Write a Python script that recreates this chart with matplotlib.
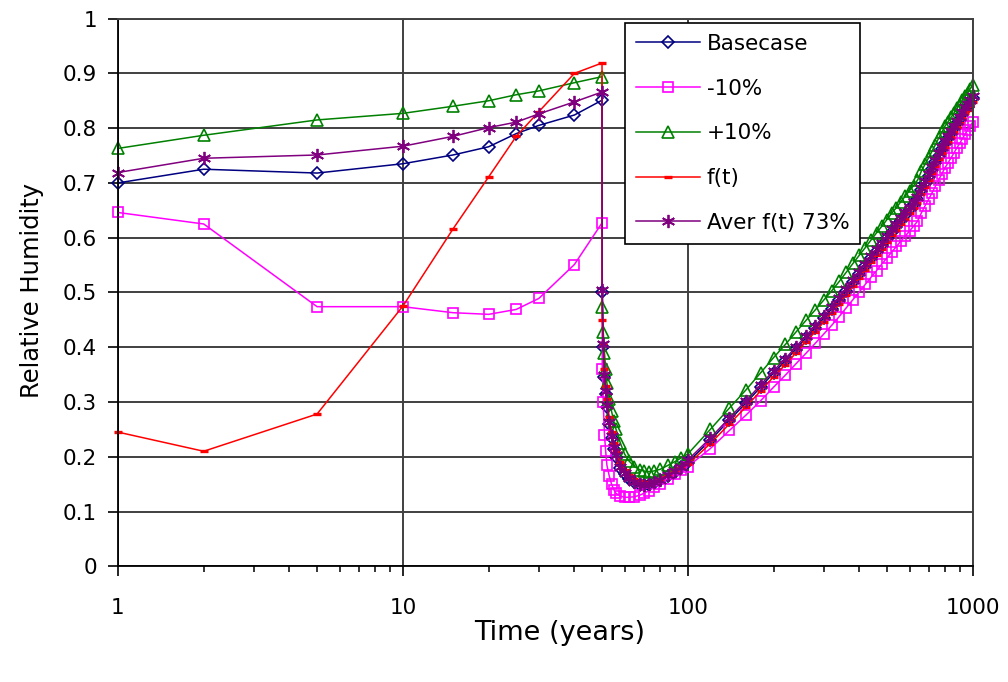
import matplotlib
matplotlib.use("Agg")
import matplotlib.pyplot as plt
from matplotlib.ticker import FixedLocator, NullFormatter

# ---------------- data ----------------
t_early = [1, 2, 5, 10, 15, 20, 25, 30, 40, 50]
t_drop = [50.1, 50.5, 51, 51.5, 52, 53, 54, 55, 56, 58, 60, 62, 65, 68, 70,
          73, 76, 80, 85, 90, 95]
t_late = [100, 120, 140, 160, 180, 200, 220, 240, 260, 280, 300, 320, 340,
          360, 380, 400, 420, 440, 460, 480, 500, 520, 540, 560, 580, 600,
          620, 640, 660, 680, 700, 720, 740, 760, 780, 800, 820, 840, 860,
          880, 900, 920, 940, 960, 980, 1000]

base_early = [0.700, 0.725, 0.718, 0.735, 0.751, 0.766, 0.790, 0.805, 0.824, 0.851]
base_drop = [0.500, 0.400, 0.345, 0.315, 0.290, 0.260, 0.235, 0.215, 0.200,
             0.180, 0.168, 0.160, 0.153, 0.149, 0.148, 0.149, 0.152, 0.157,
             0.165, 0.173, 0.181]
base_late = [0.190, 0.230, 0.267, 0.298, 0.327, 0.353, 0.375, 0.397, 0.417,
             0.435, 0.453, 0.470, 0.486, 0.503, 0.519, 0.534, 0.548, 0.562,
             0.575, 0.587, 0.599, 0.611, 0.621, 0.632, 0.642, 0.652, 0.661,
             0.671, 0.687, 0.700, 0.712, 0.725, 0.738, 0.750, 0.762, 0.773,
             0.782, 0.791, 0.800, 0.809, 0.817, 0.826, 0.834, 0.841, 0.848,
             0.855]

minus_early = [0.646, 0.625, 0.474, 0.474, 0.463, 0.460, 0.469, 0.489, 0.551, 0.627]
minus_drop = [0.360, 0.300, 0.240, 0.210, 0.185, 0.165, 0.150, 0.140, 0.133,
              0.128, 0.126, 0.126, 0.127, 0.130, 0.133, 0.138, 0.144, 0.151,
              0.160, 0.168, 0.175]
minus_late = [0.182, 0.215, 0.248, 0.276, 0.302, 0.327, 0.349, 0.370, 0.389,
              0.407, 0.424, 0.440, 0.456, 0.472, 0.487, 0.501, 0.515, 0.528,
              0.540, 0.552, 0.563, 0.574, 0.584, 0.594, 0.603, 0.612, 0.621,
              0.630, 0.645, 0.658, 0.670, 0.682, 0.694, 0.706, 0.717, 0.728,
              0.737, 0.746, 0.755, 0.764, 0.772, 0.781, 0.789, 0.797, 0.804,
              0.811]

plus_early = [0.763, 0.787, 0.815, 0.827, 0.840, 0.850, 0.861, 0.868, 0.883, 0.894]
plus_drop = [0.474, 0.428, 0.390, 0.360, 0.335, 0.305, 0.283, 0.265, 0.250,
             0.225, 0.205, 0.193, 0.182, 0.176, 0.174, 0.173, 0.174, 0.177,
             0.184, 0.191, 0.198]
plus_late = [0.205, 0.250, 0.289, 0.322, 0.353, 0.381, 0.405, 0.428, 0.449,
             0.468, 0.486, 0.503, 0.520, 0.537, 0.553, 0.568, 0.582, 0.596,
             0.609, 0.621, 0.633, 0.645, 0.655, 0.666, 0.676, 0.686, 0.695,
             0.705, 0.721, 0.734, 0.746, 0.758, 0.770, 0.782, 0.793, 0.804,
             0.812, 0.820, 0.828, 0.836, 0.843, 0.851, 0.858, 0.865, 0.872,
             0.879]

ft_early = [0.245, 0.210, 0.278, 0.475, 0.616, 0.711, 0.785, 0.830, 0.900, 0.919]
ft_drop = [0.450, 0.408, 0.360, 0.330, 0.305, 0.272, 0.245, 0.225, 0.210,
           0.190, 0.176, 0.167, 0.159, 0.155, 0.154, 0.154, 0.156, 0.160,
           0.167, 0.175, 0.182]
ft_late = [0.186, 0.224, 0.260, 0.291, 0.320, 0.346, 0.368, 0.390, 0.410,
           0.428, 0.446, 0.463, 0.479, 0.496, 0.512, 0.527, 0.541, 0.555,
           0.568, 0.580, 0.592, 0.604, 0.614, 0.625, 0.635, 0.645, 0.654,
           0.664, 0.680, 0.693, 0.705, 0.718, 0.731, 0.743, 0.755, 0.766,
           0.775, 0.784, 0.793, 0.802, 0.810, 0.819, 0.827, 0.834, 0.841,
           0.848]

aver_early = [0.719, 0.745, 0.751, 0.767, 0.785, 0.801, 0.811, 0.826, 0.848, 0.866]
aver_drop = [0.505, 0.405, 0.350, 0.320, 0.295, 0.263, 0.238, 0.218, 0.203,
             0.182, 0.170, 0.161, 0.154, 0.150, 0.149, 0.150, 0.153, 0.158,
             0.166, 0.174, 0.182]
aver_late = [0.194, 0.234, 0.271, 0.302, 0.331, 0.357, 0.379, 0.401, 0.421,
             0.439, 0.457, 0.474, 0.490, 0.507, 0.523, 0.538, 0.552, 0.566,
             0.579, 0.591, 0.603, 0.615, 0.625, 0.636, 0.646, 0.656, 0.665,
             0.675, 0.691, 0.704, 0.716, 0.729, 0.742, 0.754, 0.766, 0.777,
             0.786, 0.795, 0.804, 0.813, 0.821, 0.830, 0.838, 0.845, 0.852,
             0.859]

labels = ["Basecase", "-10%", "+10%", "f(t)", "Aver f(t) 73%"]
y_ticks = [0, 0.1, 0.2, 0.3, 0.4, 0.5, 0.6, 0.7, 0.8, 0.9, 1.0]
y_ticklabels = ["0", "0.1", "0.2", "0.3", "0.4", "0.5", "0.6", "0.7", "0.8", "0.9", "1"]
x_ticks = [1, 10, 100, 1000]
x_ticklabels = ["1", "10", "100", "1000"]

# ---------------- plot ----------------
time = t_early + t_drop + t_late
series = [
    (base_early + base_drop + base_late,
     dict(color="#000080", marker="D", ms=6.3, mfc="none", mew=1.2)),
    (minus_early + minus_drop + minus_late,
     dict(color="#ff00ff", marker="s", ms=7.3, mfc="none", mew=1.2)),
    (plus_early + plus_drop + plus_late,
     dict(color="#008000", marker="^", ms=8, mfc="none", mew=1.2)),
    (ft_early + ft_drop + ft_late,
     dict(color="#ff0000", marker="_", ms=5.5, mew=2.4)),
    (aver_early + aver_drop + aver_late,
     dict(color="#800080", marker=(6, 2, 0), ms=9.5, mew=1.3)),
]

fig = plt.figure(figsize=(10.08, 6.82), dpi=100)
ax = fig.add_axes([0.117, 0.1697, 0.848, 0.803])

for (vals, style), lab in zip(series, labels):
    ax.plot(time, vals, lw=1.1, label=lab, clip_on=False, **style)

ax.set_xscale("log")
ax.set_xlim(1, 1000)
ax.set_ylim(0, 1)

ax.yaxis.set_major_locator(FixedLocator(y_ticks))
ax.set_yticklabels(y_ticklabels)
ax.xaxis.set_major_locator(FixedLocator(x_ticks))
ax.set_xticklabels(x_ticklabels)
ax.xaxis.set_minor_formatter(NullFormatter())

grid_c = "#404040"
ax.grid(True, which="major", axis="both", color=grid_c, lw=1.4)
ax.set_axisbelow(True)

for s in ["top", "right"]:
    ax.spines[s].set_color(grid_c)
    ax.spines[s].set_linewidth(1.4)
for s in ["left", "bottom"]:
    ax.spines[s].set_color("black")
    ax.spines[s].set_linewidth(1.3)

ax.tick_params(axis="y", which="major", direction="out", length=7, width=1.2,
               labelsize=15.5, pad=8, colors="black")
ax.tick_params(axis="x", which="major", direction="out", length=7, width=1.2,
               labelsize=15.5, pad=16, colors="black")
ax.tick_params(axis="x", which="minor", direction="out", length=4, width=1.1)

ax.set_xlabel("Time (years)", fontsize=19.5)
ax.set_ylabel("Relative Humidity", fontsize=17.5)
ax.xaxis.set_label_coords(0.517, -0.098)
ax.yaxis.set_label_coords(-0.087, 0.504)

leg = ax.legend(loc="upper left", bbox_to_anchor=(625 / 1008, 1 - 23 / 682),
                bbox_transform=fig.transFigure, fontsize=15.5, numpoints=1,
                handlelength=3.0, handletextpad=0.3, labelspacing=1.15,
                borderpad=0.5, borderaxespad=0, fancybox=False, framealpha=1,
                edgecolor="black")
leg.get_frame().set_linewidth(1.2)

fig.savefig("out.png", dpi=100)
